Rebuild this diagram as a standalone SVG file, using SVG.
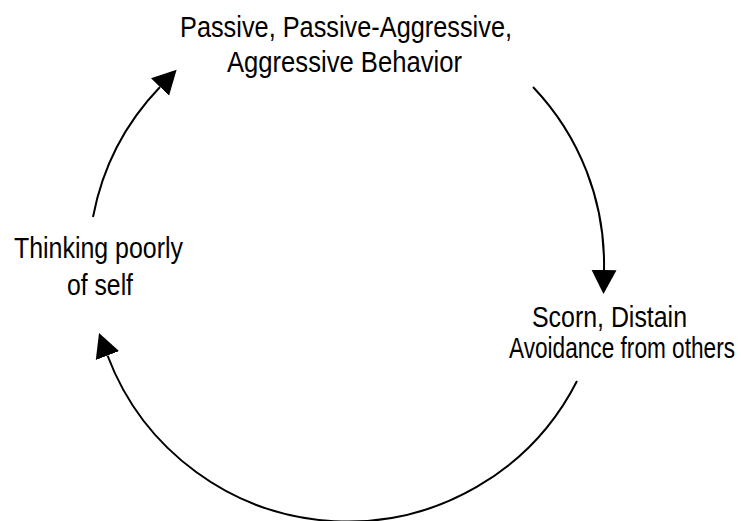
<svg xmlns="http://www.w3.org/2000/svg" width="741" height="521" viewBox="0 0 741 521">
<style>
text{font-family:"Liberation Sans",Arial,sans-serif;font-size:23px;fill:#000}
.arc{fill:none;stroke:#000;stroke-width:2;marker-end:url(#ah)}
</style>
<defs>
<marker id="ah" markerUnits="userSpaceOnUse" viewBox="0 -13 25 26" refX="0" refY="0" markerWidth="25" markerHeight="26" orient="auto">
<path d="M0,-12.5 L24,0 L0,12.5 z" fill="#000"/>
</marker>
</defs>
<rect width="741" height="521" fill="#fff"/>
<g id="connectors">
<path class="arc" d="M93,217 A257,257 0 0 1 160,87"/>
<path class="arc" d="M533,87 A257,257 0 0 1 604,270"/>
<path class="arc" d="M577,381 A257,257 0 0 1 107.5,355.5"/>
</g>
<g id="node-behavior">
<text transform="translate(180,37) scale(1,1.3)" textLength="332" lengthAdjust="spacingAndGlyphs">Passive, Passive-Aggressive,</text>
<text transform="translate(227,72) scale(1,1.3)" textLength="235" lengthAdjust="spacingAndGlyphs">Aggressive Behavior</text>
</g>
<g id="node-scorn">
<text transform="translate(532,327) scale(1,1.3)" textLength="155" lengthAdjust="spacingAndGlyphs">Scorn, Distain</text>
<text transform="translate(509,358) scale(1,1.3)" textLength="226" lengthAdjust="spacingAndGlyphs">Avoidance from others</text>
</g>
<g id="node-self">
<text transform="translate(14,258) scale(1,1.3)" textLength="169" lengthAdjust="spacingAndGlyphs">Thinking poorly</text>
<text transform="translate(67,295) scale(1,1.3)" textLength="66" lengthAdjust="spacingAndGlyphs">of self</text>
</g>
</svg>
